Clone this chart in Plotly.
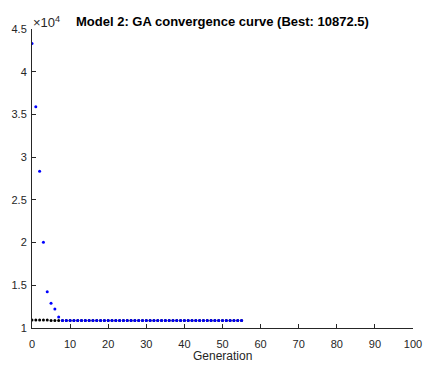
import plotly.graph_objects as go

gens_mean = list(range(0, 56))
mean_vals = [43300, 35900, 28350, 20030, 14250, 12890, 12220, 11290] + [10875] * 48
gens_best = list(range(0, 56))
best_vals = [10950, 10950, 10950, 10950, 10950, 10880, 10880, 10872.5] + [10872.5] * 48

y_tickvals = [10000, 15000, 20000, 25000, 30000, 35000, 40000, 45000]
y_ticktext = ["1", "1.5", "2", "2.5", "3", "3.5", "4", "4.5"]
x_tickvals = list(range(0, 101, 10))

W, H = 425, 365
L, R, T, B = 31.5, 12, 29, 37
FAM = "Liberation Sans, Arial, sans-serif"

fig = go.Figure()
fig.add_trace(go.Scatter(x=gens_best, y=best_vals, mode="markers",
                         marker=dict(color="black", size=3), showlegend=False))
fig.add_trace(go.Scatter(x=gens_mean, y=mean_vals, mode="markers",
                         marker=dict(color="#0000ff", size=3), showlegend=False))

font = dict(family=FAM, size=11, color="#262626")
fig.update_layout(
    width=W, height=H,
    margin=dict(l=L, r=R, t=T, b=B, pad=0),
    paper_bgcolor="white", plot_bgcolor="white",
    font=font,
    xaxis=dict(range=[0, 100], tickvals=x_tickvals, ticks="inside", ticklen=4,
               tickcolor="#262626", showline=True, linecolor="#262626", linewidth=1,
               showgrid=False, zeroline=False, tickfont=font, automargin=False,
               ticklabelstandoff=6),
    yaxis=dict(range=[10000, 45000], tickvals=y_tickvals, ticktext=y_ticktext,
               ticks="inside", ticklen=4, tickcolor="#262626", showline=True,
               linecolor="#262626", linewidth=1, showgrid=False, zeroline=False,
               tickfont=font, automargin=False, ticklabelstandoff=2),
)
fig.add_annotation(text="×10<sup>4</sup>", xref="paper", yref="paper",
                   x=0.0, y=1.0, xanchor="left", yanchor="bottom", showarrow=False,
                   xshift=-1, yshift=-3,
                   font=dict(family=FAM, size=13, color="#262626"))
fig.add_annotation(text="<b>Model 2: GA convergence curve (Best: 10872.5)</b>",
                   xref="paper", yref="paper", x=0.5, y=1.0,
                   xanchor="center", yanchor="bottom", yshift=-2, showarrow=False,
                   font=dict(family=FAM, size=13, color="black"))
fig.add_annotation(text="Generation", xref="paper", yref="paper", x=0.5, y=0,
                   xanchor="center", yanchor="top", yshift=-19, showarrow=False,
                   font=dict(family=FAM, size=12, color="#262626"))
fig.write_html("out.html")
